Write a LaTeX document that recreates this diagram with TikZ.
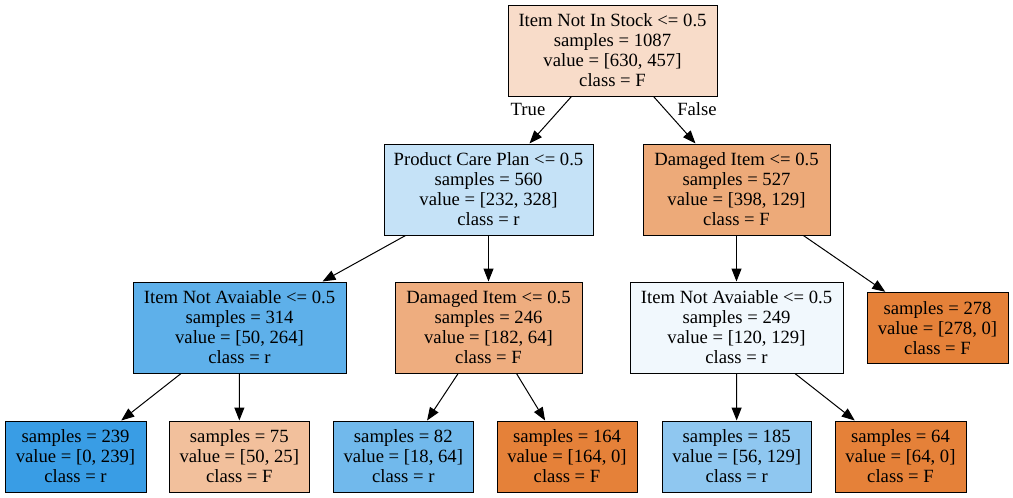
\documentclass[tikz,border=0pt]{standalone}
\usepackage{fontspec}
\setmainfont{Liberation Serif}
\usetikzlibrary{arrows.meta}
\definecolor{rootfill}{RGB}{248,220,201}
\definecolor{pcpfill}{RGB}{197,226,247}
\definecolor{dmgfill}{RGB}{237,170,121}
\definecolor{inafill}{RGB}{94,176,234}
\definecolor{dmgbfill}{RGB}{238,173,127}
\definecolor{inabfill}{RGB}{241,248,253}
\definecolor{Ffill}{RGB}{229,129,57}
\definecolor{rfill}{RGB}{57,157,229}
\definecolor{lffill}{RGB}{242,192,156}
\definecolor{lrfill}{RGB}{113,185,236}
\definecolor{lrbfill}{RGB}{143,199,240}
\tikzset{
  treebox/.style={draw=black, line width=0.75pt, inner sep=0pt, align=center,
    font=\fontsize{14pt}{15pt}\selectfont},
  splitbox/.style={treebox, minimum height=68.25pt},
  leafbox/.style={treebox, minimum height=53.25pt},
  edge/.style={line width=0.75pt, -{Triangle[length=9.75pt,width=7.5pt]}},
  edgelabel/.style={inner sep=0pt, font=\fontsize{14pt}{15pt}\selectfont}
}
\begin{document}
\begin{tikzpicture}[x=0.75pt,y=0.75pt,yscale=-1,xscale=1]
	\useasboundingbox (0,0) rectangle (1013,497);
	% splits
	\node (root) [splitbox, fill=rootfill, minimum width=156.75pt] at (612.5,50.5) {Item Not In Stock <= 0.5\\samples = 1087\\value = [630, 457]\\class = F};
	\node (pcp) [splitbox, fill=pcpfill, minimum width=156.75pt] at (488.5,189.5) {Product Care Plan <= 0.5\\samples = 560\\value = [232, 328]\\class = r};
	\node (dmg) [splitbox, fill=dmgfill, minimum width=140.25pt] at (736.5,189.5) {Damaged Item <= 0.5\\samples = 527\\value = [398, 129]\\class = F};
	\node (ina) [splitbox, fill=inafill, minimum width=159.75pt] at (239.5,327.5) {Item Not Avaiable <= 0.5\\samples = 314\\value = [50, 264]\\class = r};
	\node (dmgb) [splitbox, fill=dmgbfill, minimum width=140.25pt] at (488.5,327.5) {Damaged Item <= 0.5\\samples = 246\\value = [182, 64]\\class = F};
	\node (inab) [splitbox, fill=inabfill, minimum width=159.75pt] at (736.5,327.5) {Item Not Avaiable <= 0.5\\samples = 249\\value = [120, 129]\\class = r};
	% leaves
	\node (leafa) [leafbox, fill=Ffill, minimum width=105.75pt] at (937.5,327.8) {samples = 278\\value = [278, 0]\\class = F};
	\node (leafb) [leafbox, fill=rfill, minimum width=105.75pt] at (75.5,456.5) {samples = 239\\value = [0, 239]\\class = r};
	\node (leafc) [leafbox, fill=lffill, minimum width=105pt] at (239.3,456.5) {samples = 75\\value = [50, 25]\\class = F};
	\node (leafd) [leafbox, fill=lrfill, minimum width=105pt] at (403.3,456.5) {samples = 82\\value = [18, 64]\\class = r};
	\node (leafe) [leafbox, fill=Ffill, minimum width=105pt] at (567,456.5) {samples = 164\\value = [164, 0]\\class = F};
	\node (leaff) [leafbox, fill=lrbfill, minimum width=111.75pt] at (736.7,456.5) {samples = 185\\value = [56, 129]\\class = r};
	\node (leafg) [leafbox, fill=Ffill, minimum width=98.25pt] at (900.5,456.5) {samples = 64\\value = [64, 0]\\class = F};
	% edges
	\draw [edge] (root) -- (pcp);
	\draw [edge] (root) -- (dmg);
	\draw [edge] (pcp) -- (ina);
	\draw [edge] (pcp) -- (dmgb);
	\draw [edge] (dmg) -- (inab);
	\draw [edge] (dmg) -- (leafa);
	\draw [edge] (ina) -- (leafb);
	\draw [edge] (ina) -- (leafc);
	\draw [edge] (dmgb) -- (leafd);
	\draw [edge] (dmgb) -- (leafe);
	\draw [edge] (inab) -- (leaff);
	\draw [edge] (inab) -- (leafg);
	\node (truelbl) [edgelabel] at (528,109) {True};
	\node (falselbl) [edgelabel] at (697,109) {False};
\end{tikzpicture}
\end{document}
